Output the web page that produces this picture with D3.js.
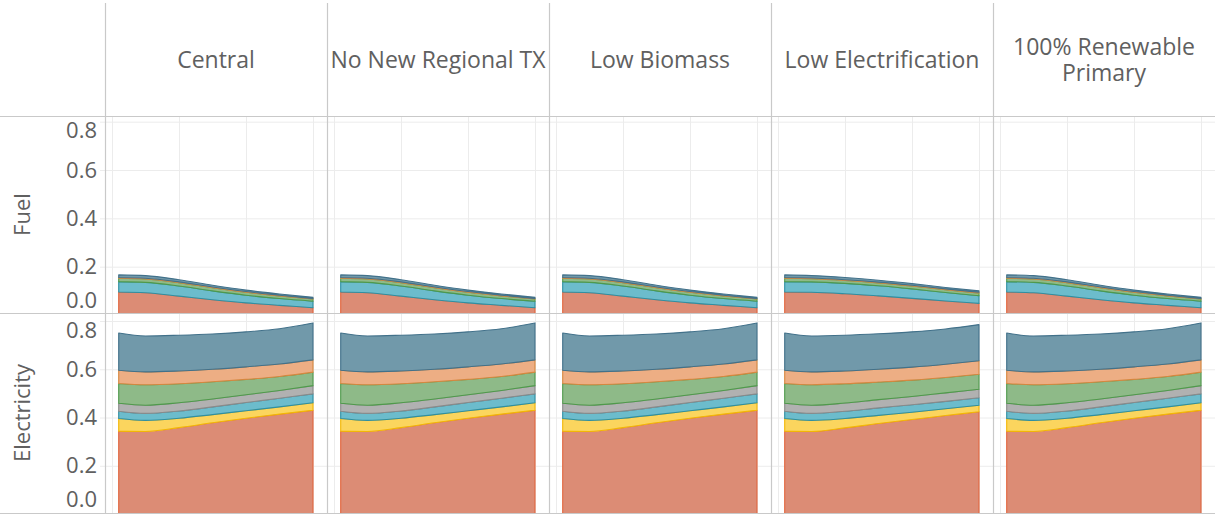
<!DOCTYPE html>
<html>
<head>
<meta charset="utf-8">
<script src="https://cdn.jsdelivr.net/npm/d3@7"></script>
<style>
body { margin: 0; background: #fff; }
svg text { font-family: "Open Sans", sans-serif; fill: #606060; }
</style>
</head>
<body>
<svg id="chart" width="1215" height="515"></svg>
<script>
// data
var years = [2021, 2025, 2030, 2035, 2040, 2045, 2050];
var scenarios = ["Central", "No New Regional TX", "Low Biomass", "Low Electrification", "100% Renewable Primary"];
var rowNames = ["Fuel", "Electricity"];
var layerKeys = ["s1", "s2", "s3", "s4", "s5", "s6", "s7"];
var yTicks = [0, 0.2, 0.4, 0.6, 0.8];
var xGrid = [2020, 2030, 2040, 2050];

// one inner array per layer, bottom to top
var centralFuel = [
	[0.095, 0.092, 0.078, 0.063, 0.050, 0.040, 0.030],
	[0, 0, 0, 0, 0, 0, 0],
	[0.043, 0.043, 0.042, 0.037, 0.032, 0.028, 0.027],
	[0, 0, 0, 0, 0, 0, 0],
	[0.014, 0.014, 0.014, 0.013, 0.012, 0.011, 0.009],
	[0.003, 0.003, 0.003, 0.003, 0.003, 0.003, 0.002],
	[0.011, 0.011, 0.009, 0.007, 0.006, 0.005, 0.005]
];
var centralElec = [
	[0.343, 0.342, 0.358, 0.378, 0.397, 0.414, 0.430],
	[0.053, 0.046, 0.039, 0.034, 0.031, 0.030, 0.031],
	[0.030, 0.029, 0.030, 0.032, 0.034, 0.036, 0.037],
	[0.033, 0.034, 0.034, 0.033, 0.032, 0.032, 0.034],
	[0.082, 0.085, 0.079, 0.071, 0.064, 0.058, 0.056],
	[0.055, 0.053, 0.053, 0.052, 0.052, 0.052, 0.051],
	[0.154, 0.149, 0.148, 0.146, 0.145, 0.146, 0.153]
];
var lowElecFuel = [
	[0.095, 0.094, 0.088, 0.079, 0.069, 0.058, 0.048],
	[0, 0, 0, 0, 0, 0, 0],
	[0.043, 0.043, 0.043, 0.042, 0.039, 0.035, 0.032],
	[0, 0, 0, 0, 0, 0, 0],
	[0.014, 0.013, 0.012, 0.012, 0.012, 0.012, 0.011],
	[0.003, 0.003, 0.003, 0.003, 0.003, 0.003, 0.003],
	[0.011, 0.010, 0.009, 0.008, 0.007, 0.006, 0.006]
];
var lowElecElec = [
	[0.343, 0.342, 0.357, 0.375, 0.392, 0.408, 0.424],
	[0.053, 0.046, 0.039, 0.034, 0.030, 0.028, 0.027],
	[0.030, 0.029, 0.030, 0.031, 0.031, 0.031, 0.031],
	[0.033, 0.034, 0.034, 0.034, 0.034, 0.035, 0.035],
	[0.082, 0.085, 0.080, 0.073, 0.068, 0.064, 0.062],
	[0.055, 0.053, 0.053, 0.053, 0.054, 0.055, 0.056],
	[0.154, 0.149, 0.148, 0.147, 0.146, 0.146, 0.150]
];

// the other three panels look the same as Central
var panelData = {
	"Central": [centralFuel, centralElec],
	"No New Regional TX": [centralFuel, centralElec],
	"Low Biomass": [centralFuel, centralElec],
	"Low Electrification": [lowElecFuel, lowElecElec],
	"100% Renewable Primary": [centralFuel, centralElec]
};

var fills = ["#dc8c75", "#fbd55e", "#6cbccc", "#b1b1b1", "#8eba88", "#edae84", "#7199aa"];
var strokes = ["#e2663e", "#f2b705", "#2f8fa2", "#8a8a8a", "#4f9a4b", "#d6873f", "#42718a"];

var W = 1215;
var axisX = 100;
var colLeft = 105;
var colW = 222;
// pane edges, where 0 and 0.8 fall, and how far labels may go
var rows = [
	{top: 116, bottom: 313, y0: 315, y8: 121.7, labTop: 130, labBot: 300},
	{top: 313, bottom: 513, y0: 514, y8: 321, labTop: 330, labBot: 499}
];
var lineColor = "#c9c9c9";
var gridColor = "#ececec";

var svg = d3.select("#chart");

// turn the arrays for one panel into rows for d3.stack
function toTable(arr){
	return years.map(function(yr, i){
		var o = {year: yr};
		layerKeys.forEach(function(k, j){ o[k] = arr[j][i]; });
		return o;
	});
}

rows.forEach(function(r, ri){
	var y = d3.scaleLinear().domain([0, 0.8]).range([r.y0, r.y8]);

	// horizontal grid + tick labels
	var g = svg.append("g")
		.attr("transform", "translate(" + axisX + ",0)")
		.call(d3.axisLeft(y).tickValues(yTicks).tickFormat(d3.format(".1f"))
			.tickSize(-(W - axisX)).tickPadding(3));
	g.attr("font-family", null).attr("font-size", null);
	g.select(".domain").remove();
	g.selectAll(".tick line")
		.attr("stroke", gridColor)
		.style("display", function(d){ return (y(d) > r.bottom || y(d) < r.top) ? "none" : null; });
	g.selectAll(".tick text")
		.style("font-size", "22px")
		.attr("y", function(d){
			var yy = y(d);
			var c = Math.max(r.labTop, Math.min(r.labBot, yy));
			return c - yy;
		});

	// row label
	svg.append("text")
		.attr("transform", "translate(21," + ((r.top + r.bottom) / 2) + ") rotate(-90)")
		.attr("text-anchor", "middle")
		.attr("dominant-baseline", "central")
		.style("font-size", "22px")
		.text(rowNames[ri]);

	scenarios.forEach(function(sc, ci){
		var left = colLeft + ci * colW;
		var x = d3.scaleLinear().domain([2020, 2050]).range([left + 7, left + 208]);

		// vertical grid
		var gx = svg.append("g")
			.attr("transform", "translate(0," + r.bottom + ")")
			.call(d3.axisBottom(x).tickValues(xGrid).tickFormat("").tickSize(-(r.bottom - r.top)));
		gx.select(".domain").remove();
		gx.selectAll(".tick line").attr("stroke", gridColor);

		var clipId = "clip" + ri + "_" + ci;
		svg.append("clipPath").attr("id", clipId)
			.append("rect")
			.attr("x", left).attr("y", r.top)
			.attr("width", colW).attr("height", r.bottom - r.top);

		var arr = panelData[sc][ri];
		var table = toTable(arr);
		var keys = layerKeys.filter(function(k, j){ return d3.sum(arr[j]) > 0; });
		var series = d3.stack().keys(keys)(table);

		var area = d3.area()
			.x(function(d){ return x(d.data.year); })
			.y0(function(d){ return y(d[0]); })
			.y1(function(d){ return y(d[1]); })
			.curve(d3.curveMonotoneX);

		svg.append("g").attr("clip-path", "url(#" + clipId + ")")
			.selectAll("path").data(series)
			.enter()
			.append("path")
			.attr("d", area)
			.attr("fill", function(d){ return fills[layerKeys.indexOf(d.key)]; })
			.attr("stroke", function(d){ return strokes[layerKeys.indexOf(d.key)]; })
			.attr("stroke-width", 1.1)
			.attr("stroke-linejoin", "round");
	});
});

// column headers, wrapped onto separate lines when too wide
var maxW = colW - 3;
scenarios.forEach(function(sc, ci){
	var cx = colLeft + ci * colW + colW / 2;
	var probe = svg.append("text").style("font-size", "23px").text(sc);
	var lines = [sc];
	if (probe.node().getComputedTextLength() > maxW){
		var words = sc.split(" ");
		var cur = [];
		lines = [];
		words.forEach(function(w){
			cur.push(w);
			probe.text(cur.join(" "));
			if (probe.node().getComputedTextLength() > maxW && cur.length > 1){
				cur.pop();
				lines.push(cur.join(" "));
				cur = [w];
			}
		});
		lines.push(cur.join(" "));
	}
	probe.remove();
	lines.forEach(function(l, i){
		svg.append("text")
			.attr("x", cx)
			.attr("y", 59 + (i - (lines.length - 1) / 2) * 26)
			.attr("text-anchor", "middle")
			.attr("dominant-baseline", "central")
			.style("font-size", "23px")
			.text(l);
	});
});

// panel borders
var vx = d3.range(scenarios.length).map(function(i){ return colLeft + i * colW; });
svg.selectAll(".vline").data(vx).enter()
	.append("line")
	.attr("x1", function(d){ return d + 0.5; }).attr("x2", function(d){ return d + 0.5; })
	.attr("y1", 3).attr("y2", 513)
	.attr("stroke", lineColor).attr("stroke-width", 1.2);
svg.selectAll(".hline").data([116, 313, 513]).enter()
	.append("line")
	.attr("x1", 0).attr("x2", W)
	.attr("y1", function(d){ return d + 0.5; }).attr("y2", function(d){ return d + 0.5; })
	.attr("stroke", lineColor).attr("stroke-width", 1.2);
</script>
</body>
</html>
